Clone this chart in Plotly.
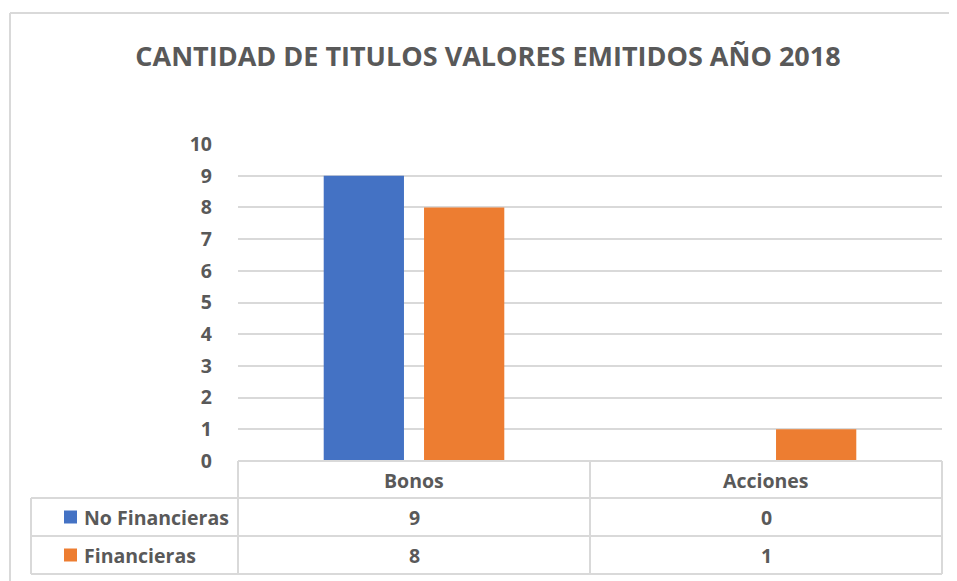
import plotly.graph_objects as go

# ---- data ----
categories = ["Bonos", "Acciones"]
series_names = ["No Financieras", "Financieras"]
no_financieras = [9, 0]
financieras = [8, 1]
y_ticks = list(range(0, 11))
title_text = "CANTIDAD DE TITULOS VALORES EMITIDOS AÑO 2018"

# ---- style ----
colors = ["#4472C4", "#ED7D31"]
text_color = "#595959"
grid_color = "#D9D9D9"
font_family = "Open Sans, Carlito, Calibri, sans-serif"

# page body has an 8px margin: figure sits at (8, 8) in the window
OX, OY = 8, 8
WIN_W, WIN_H = 957, 581
W, H = WIN_W - OX, WIN_H - OY
# target plot area in window pixels
PL, PR, PT, PB = 238, 942, 144, 461
L, R, T, B = PL - OX, W - (PR - OX), PT - OY, H - (PB - OY)
plot_w = W - L - R
plot_h = H - T - B


def py(win_y):
    """window pixel y -> paper y"""
    return (PB - win_y) / plot_h


def px(win_x):
    """window pixel x -> paper x"""
    return (win_x - PL) / plot_w


fig = go.Figure()
for name, vals, col in zip(series_names, [no_financieras, financieras], colors):
    fig.add_trace(go.Bar(x=categories, y=vals, name=name, marker_color=col,
                         marker_line_width=0, showlegend=False))

shapes = []
line = dict(color=grid_color, width=2)
# chart border (top and left)
shapes.append(dict(type="line", xref="paper", yref="paper", x0=px(10), x1=px(960),
                   y0=py(13), y1=py(13), line=line))
shapes.append(dict(type="line", xref="paper", yref="paper", x0=px(10), x1=px(10),
                   y0=py(13), y1=py(590), line=line))
# table horizontal lines
rows_y = [498, 536, 574]
shapes.append(dict(type="line", xref="paper", yref="paper", x0=0, x1=1,
                   y0=py(461), y1=py(461), line=line))
for yy in rows_y:
    shapes.append(dict(type="line", xref="paper", yref="paper", x0=px(31), x1=1,
                       y0=py(yy), y1=py(yy), line=line))
# table vertical lines
n = len(categories)
for i in range(n + 1):
    xv = i / n
    shapes.append(dict(type="line", xref="paper", yref="paper", x0=xv, x1=xv,
                       y0=py(461), y1=py(574), line=line))
shapes.append(dict(type="line", xref="paper", yref="paper", x0=px(31), x1=px(31),
                   y0=py(498), y1=py(574), line=line))

annotations = []
tfont = dict(family=font_family, size=19.5, color=text_color)
# header row
for i, c in enumerate(categories):
    annotations.append(dict(xref="paper", yref="paper", x=(i + 0.5) / n, y=py(480),
                            text=f"<b>{c}</b>", showarrow=False, font=tfont,
                            xanchor="center", yanchor="middle"))
# series rows
row_centers = [517, 555]
for r, (name, vals, col) in enumerate(zip(series_names, [no_financieras, financieras], colors)):
    yc = row_centers[r]
    shapes.append(dict(type="rect", xref="paper", yref="paper", x0=px(64), x1=px(77),
                       y0=py(yc - 6.5), y1=py(yc + 6.5), fillcolor=col, line=dict(width=0)))
    annotations.append(dict(xref="paper", yref="paper", x=px(82), y=py(yc),
                            text=f"<b>{name}</b>", showarrow=False, font=tfont,
                            xanchor="left", yanchor="middle"))
    for i, v in enumerate(vals):
        annotations.append(dict(xref="paper", yref="paper", x=(i + 0.5) / n, y=py(yc),
                                text=f"<b>{v}</b>", showarrow=False, font=tfont,
                                xanchor="center", yanchor="middle"))

fig.update_layout(
    width=W, height=H,
    margin=dict(l=L, r=R, t=T, b=B, pad=0),
    paper_bgcolor="white", plot_bgcolor="white",
    barmode="group", bargap=0.43, bargroupgap=0.2,
    title=dict(text=f"<b>{title_text}</b>", x=(488 - OX) / W, xanchor="center",
               y=1 - (57 - OY) / H, yanchor="middle",
               font=dict(family=font_family, size=27, color=text_color)),
    xaxis=dict(showticklabels=False, showgrid=False, zeroline=False,
               showline=False, ticks=""),
    yaxis=dict(range=[0, 10], tickvals=y_ticks, ticktext=[f"<b>{t}</b>" for t in y_ticks],
               showgrid=True, gridcolor=grid_color, gridwidth=2, zeroline=False,
               showline=False, ticks="", ticklabelstandoff=25,
               tickfont=dict(family=font_family, size=19.5, color=text_color)),
    shapes=shapes, annotations=annotations,
    font=dict(family=font_family, color=text_color),
)

fig.write_html("out.html")
